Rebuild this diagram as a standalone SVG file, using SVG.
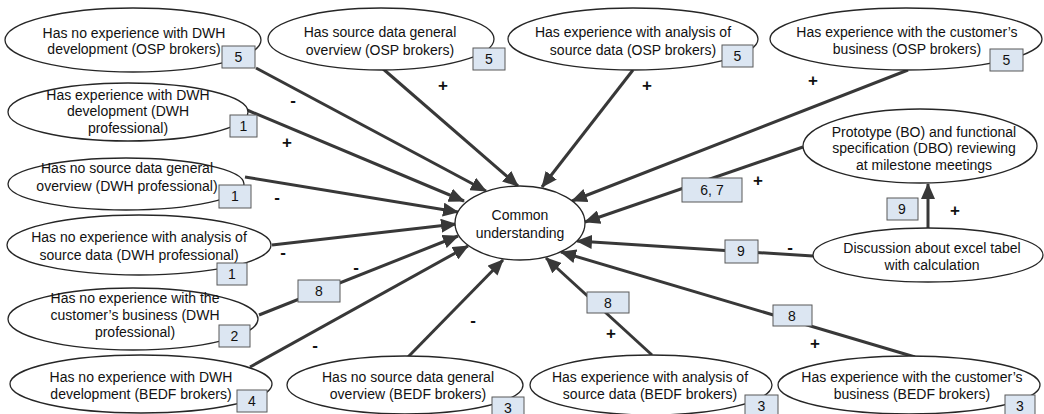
<svg xmlns="http://www.w3.org/2000/svg" width="1044" height="414" viewBox="0 0 1044 414">
<style>
.n ellipse{fill:#fff;stroke:#262626;stroke-width:1.3}
text{font-family:"Liberation Sans",Arial,sans-serif;font-size:14px;fill:#111;text-anchor:middle}
.b rect,rect.b{fill:#dce6f2;stroke:#595959;stroke-width:1}
.c line{stroke:#383838;stroke-width:3;marker-end:url(#ah)}
.s{font-size:17px;font-weight:bold}
</style>
<defs>
<marker id="ah" markerUnits="userSpaceOnUse" markerWidth="16" markerHeight="14" viewBox="0 0 16 14" refX="15" refY="7" orient="auto">
<path d="M0,0 L16,7 L0,14 z" fill="#383838"/>
</marker>
</defs>
<rect width="1044" height="414" fill="#fff"/>
<g id="connectors" class="c">
<line x1="256" y1="68" x2="486" y2="191"/>
<line x1="247" y1="110" x2="464" y2="201"/>
<line x1="245" y1="177" x2="458" y2="212"/>
<line x1="272" y1="245" x2="456" y2="224"/>
<line x1="259" y1="315" x2="458" y2="236"/>
<line x1="250" y1="367" x2="468" y2="246"/>
<line x1="408" y1="357" x2="503" y2="260"/>
<line x1="652" y1="355" x2="546" y2="258"/>
<line x1="915" y1="357" x2="561" y2="252"/>
<line x1="813" y1="256" x2="577" y2="241"/>
<line x1="803" y1="147" x2="585" y2="222"/>
<line x1="908" y1="70" x2="572" y2="201"/>
<line x1="633" y1="70" x2="542" y2="187"/>
<line x1="382" y1="68" x2="518" y2="186"/>
<line x1="928" y1="228" x2="928" y2="184"/>
</g>
<g id="connector-labels">
<rect class="b" x="298" y="280" width="42" height="22"/><text x="319" y="296">8</text>
<rect class="b" x="587" y="292" width="42" height="21"/><text x="608" y="308">8</text>
<rect class="b" x="773" y="305" width="39" height="21"/><text x="792" y="321">8</text>
<rect class="b" x="682" y="178" width="60" height="24"/><text x="712" y="195">6, 7</text>
<rect class="b" x="725" y="240" width="33" height="23"/><text x="741" y="256">9</text>
<rect class="b" x="887" y="198" width="31" height="22"/><text x="902" y="214">9</text>
<text class="s" x="293" y="106">-</text>
<text class="s" x="287" y="148">+</text>
<text class="s" x="443" y="91">+</text>
<text class="s" x="647" y="91">+</text>
<text class="s" x="813" y="86">+</text>
<text class="s" x="277" y="203">-</text>
<text class="s" x="283" y="258">-</text>
<text class="s" x="356" y="273">-</text>
<text class="s" x="315" y="351">-</text>
<text class="s" x="473" y="326">-</text>
<text class="s" x="611" y="339">+</text>
<text class="s" x="815" y="349">+</text>
<text class="s" x="758" y="186">+</text>
<text class="s" x="790" y="253">-</text>
<text class="s" x="955" y="216">+</text>
</g>
<g id="center" class="n">
<ellipse cx="520" cy="223" rx="65" ry="37"/>
<text x="520" y="220">Common</text><text x="520" y="238">understanding</text>
</g>
<g id="n1" class="n b">
<ellipse cx="133" cy="40" rx="128" ry="32"/>
<text x="134" y="38">Has no experience with DWH</text><text x="134" y="54">development (OSP brokers)</text>
<rect x="222" y="46" width="33" height="22"/><text x="238.5" y="62">5</text>
</g>
<g id="n2" class="n b">
<ellipse cx="128" cy="112" rx="120" ry="29"/>
<text x="128" y="100">Has experience with DWH</text><text x="128" y="116">development (DWH</text><text x="128" y="133">professional)</text>
<rect x="230" y="115" width="27" height="22"/><text x="243.5" y="131">1</text>
</g>
<g id="n3" class="n b">
<ellipse cx="126" cy="184" rx="118" ry="26"/>
<text x="127" y="173">Has no source data general</text><text x="127" y="191">overview (DWH professional)</text>
<rect x="219" y="185" width="32" height="23"/><text x="235" y="201">1</text>
</g>
<g id="n4" class="n b">
<ellipse cx="139" cy="245" rx="132" ry="30"/>
<text x="139" y="242">Has no experience with analysis of</text><text x="139" y="260">source data (DWH professional)</text>
<rect x="217" y="263" width="30" height="22"/><text x="232" y="279">1</text>
</g>
<g id="n5" class="n b">
<ellipse cx="133" cy="319" rx="125" ry="31"/>
<text x="135" y="303">Has no experience with the</text><text x="135" y="320">customer’s business (DWH</text><text x="135" y="337">professional)</text>
<rect x="219" y="325" width="31" height="22"/><text x="234.5" y="341">2</text>
</g>
<g id="n6" class="n b">
<ellipse cx="141" cy="384" rx="131" ry="29"/>
<text x="141" y="382">Has no experience with DWH</text><text x="141" y="399">development (BEDF brokers)</text>
<rect x="237" y="390" width="30" height="22"/><text x="252" y="406">4</text>
</g>
<g id="n7" class="n b">
<ellipse cx="405" cy="385" rx="118" ry="29"/>
<text x="408" y="382">Has no source data general</text><text x="408" y="399">overview (BEDF brokers)</text>
<rect x="492" y="397" width="32" height="22"/><text x="508" y="413">3</text>
</g>
<g id="n8" class="n b">
<ellipse cx="651" cy="385" rx="121" ry="30"/>
<text x="650" y="382">Has experience with analysis of</text><text x="650" y="399">source data (BEDF brokers)</text>
<rect x="745" y="395" width="33" height="22"/><text x="761.5" y="411">3</text>
</g>
<g id="n9" class="n b">
<ellipse cx="909" cy="385" rx="131" ry="29"/>
<text x="912" y="382">Has experience with the customer’s</text><text x="912" y="399">business (BEDF brokers)</text>
<rect x="1005" y="395" width="30" height="22"/><text x="1020" y="411">3</text>
</g>
<g id="n10" class="n b">
<ellipse cx="381" cy="39" rx="113" ry="31"/>
<text x="380" y="37">Has source data general</text><text x="380" y="55">overview (OSP brokers)</text>
<rect x="473" y="48" width="32" height="22"/><text x="489" y="64">5</text>
</g>
<g id="n11" class="n b">
<ellipse cx="633" cy="39" rx="125" ry="31"/>
<text x="633" y="37">Has experience with analysis of</text><text x="633" y="55">source data (OSP brokers)</text>
<rect x="722" y="45" width="31" height="22"/><text x="737.5" y="61">5</text>
</g>
<g id="n12" class="n b">
<ellipse cx="906" cy="39" rx="136" ry="31"/>
<text x="907" y="37">Has experience with the customer’s</text><text x="907" y="54">business (OSP brokers)</text>
<rect x="990" y="49" width="33" height="22"/><text x="1006.5" y="65">5</text>
</g>
<g id="n13" class="n">
<ellipse cx="920" cy="146" rx="117" ry="37"/>
<text x="924" y="137">Prototype (BO) and functional</text><text x="924" y="153">specification (DBO) reviewing</text><text x="924" y="170">at milestone meetings</text>
</g>
<g id="n14" class="n">
<ellipse cx="928" cy="255" rx="115" ry="27"/>
<text x="932" y="253">Discussion about excel tabel</text><text x="932" y="270">with calculation</text>
</g>
</svg>
